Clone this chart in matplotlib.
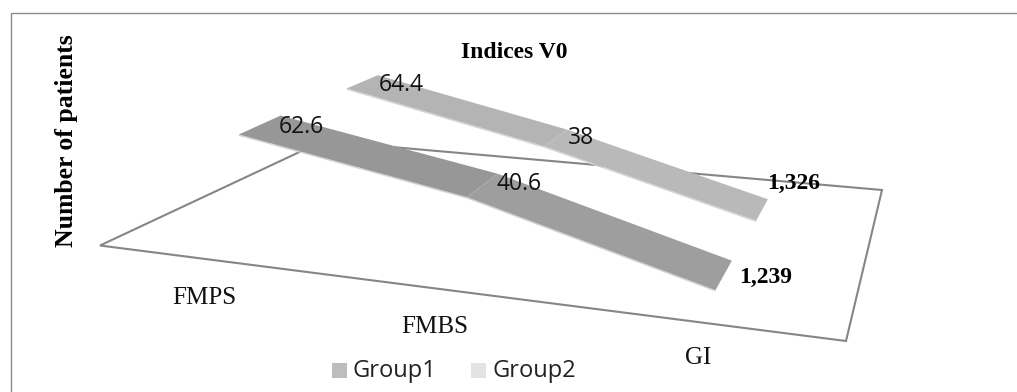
import numpy as np
import matplotlib
matplotlib.use("Agg")
import matplotlib.pyplot as plt
from matplotlib.patches import Polygon, Rectangle

categories = ["FMPS", "FMBS", "GI"]
group1 = [62.6, 40.6, 1.239]
group2 = [64.4, 38, 1.326]
labels1 = ["62.6", "40.6", "1,239"]
labels2 = ["64.4", "38", "1,326"]

serif = ["Liberation Serif", "DejaVu Serif"]
sans = ["Open Sans", "DejaVu Sans"]

# floor of the 3d box, in pixels: front left, front right, back right, back left
floor = np.array([[100, 245.5], [846, 341], [882, 190], [323, 141]], float)


def homography(pts):
    src = [(0, 0), (1, 0), (1, 1), (0, 1)]
    A = []
    b = []
    for (u, v), (x, y) in zip(src, pts):
        A.append([u, v, 1, 0, 0, 0, -u*x, -v*x])
        A.append([0, 0, 0, u, v, 1, -u*y, -v*y])
        b += [x, y]
    h = np.linalg.solve(np.array(A), np.array(b))
    return np.append(h, 1).reshape(3, 3)


H = homography(floor)


def project(u, v, z):
    p = H @ np.array([u, v, 1.0])
    # heights shrink towards the back of the box
    z_scale = 1.665 - 0.34*v
    return p[0]/p[2], p[1]/p[2] - z*z_scale


def draw_ribbon(ax, values, vc, u_pos, colors):
    hw = 0.09
    for i in range(2):
        a = project(u_pos[i], vc-hw, values[i])
        b = project(u_pos[i+1], vc-hw, values[i+1])
        c = project(u_pos[i+1], vc+hw, values[i+1])
        d = project(u_pos[i], vc+hw, values[i])
        # thin light rim under the front edge
        rim = [a, b, (b[0], b[1]+1.5), (a[0], a[1]+1.5)]
        ax.add_patch(Polygon(rim, fc="#d4d4d4", ec="none", zorder=3))
        ax.add_patch(Polygon([a, b, c, d], fc=colors[i], ec="none", zorder=3))


fig = plt.figure(figsize=(10.17, 3.92), dpi=100)
ax = fig.add_axes([0, 0, 1, 1])
ax.set_xlim(0, 1017)
ax.set_ylim(392, 0)
ax.axis("off")

# outer frame runs off the right and bottom of the picture
ax.add_patch(Rectangle((10.5, 12.5), 1020, 400, fc="white", ec="#8c8c8c", lw=1.0))
ax.add_patch(Polygon(floor, closed=True, fc="none", ec="#868686", lw=1.5, zorder=2))

draw_ribbon(ax, group1, 0.25, [0.157, 0.505, 0.835], ["#979797", "#9e9e9e"])
draw_ribbon(ax, group2, 0.72, [0.172, 0.513, 0.838], ["#b4b4b4", "#b9b9b9"])

# data labels
for txt, pos in zip(labels1[:2], [(301, 127), (519, 184)]):
    ax.text(pos[0], pos[1], txt, fontsize=16.5, family=sans, ha="center", va="center", color="#111111", zorder=5)
for txt, pos in zip(labels2[:2], [(401, 85), (581, 138)]):
    ax.text(pos[0], pos[1], txt, fontsize=16.5, family=sans, ha="center", va="center", color="#111111", zorder=5)
ax.text(766, 277, labels1[2], fontsize=17, family=serif, weight="bold", ha="center", va="center", zorder=5)
ax.text(794, 183, labels2[2], fontsize=17, family=serif, weight="bold", ha="center", va="center", zorder=5)

# category labels
for txt, pos in zip(categories, [(204.5, 298), (435, 327), (698, 358)]):
    ax.text(pos[0], pos[1], txt, fontsize=18, family=serif, ha="center", va="center", color="#111111")

ax.text(514, 52, "Indices V0", fontsize=17, family=serif, weight="bold", ha="center", va="center")
ax.text(66, 141, "Number of patients", fontsize=18.5, family=serif, weight="bold", rotation=90, ha="center", va="center")

# legend
ax.add_patch(Rectangle((332, 363), 15, 15, fc="#bdbdbd", ec="none"))
ax.text(353, 371, "Group1", fontsize=17, family=sans, va="center", color="#222222")
ax.add_patch(Rectangle((471, 363), 15, 15, fc="#e3e3e3", ec="none"))
ax.text(492, 371, "Group2", fontsize=17, family=sans, va="center", color="#222222")

fig.savefig("out.png", dpi=100)
